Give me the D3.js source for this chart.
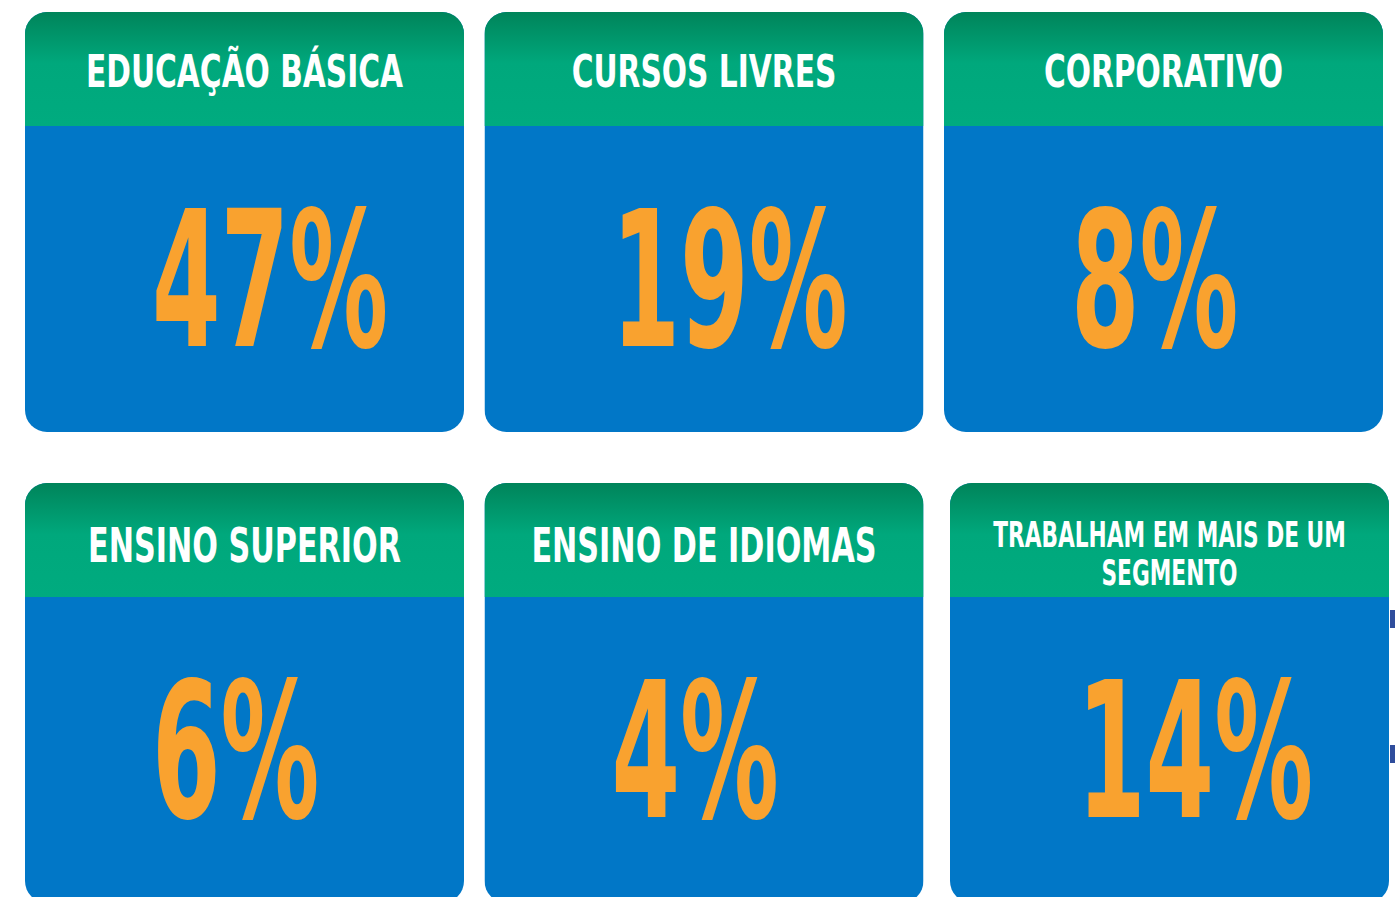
<!doctype html>
<html>
	<head>
		<meta charset="UTF-8" />
		<script src="https://d3js.org/d3.v7.min.js"></script>
		<style>
			html, body { margin: 0; padding: 0; background: #ffffff; overflow: hidden; }
			svg { display: block; }
			.head { font-family: "Liberation Sans Narrow", "DejaVu Sans Condensed", "Roboto", sans-serif; font-weight: bold; fill: #ffffff; }
			.num { font-family: "Liberation Sans Narrow", "DejaVu Sans Condensed", "Roboto", sans-serif; font-weight: bold; fill: #f9a22f; }
		</style>
	</head>
	<body>
		<svg id="chart"></svg>
		<script>
			"use strict";

			// segments and share of respondents (%)
			const categories = ["EDUCAÇÃO BÁSICA", "CURSOS LIVRES", "CORPORATIVO", "ENSINO SUPERIOR", "ENSINO DE IDIOMAS", "TRABALHAM EM MAIS DE UM SEGMENTO"];
			const values = [47, 19, 8, 6, 4, 14];

			const W = 1395, H = 897;
			const cardW = 439, cardH = 420, headH = 114, radius = 22;

			const svg = d3.select("#chart").attr("width", W).attr("height", H);

			const defs = svg.append("defs");
			const grad = defs.append("linearGradient")
				.attr("id", "headGrad")
				.attr("x1", 0).attr("y1", 0).attr("x2", 0).attr("y2", 1);
			grad.append("stop").attr("offset", "0%").attr("stop-color", "#00845a");
			grad.append("stop").attr("offset", "45%").attr("stop-color", "#00a87c");
			grad.append("stop").attr("offset", "100%").attr("stop-color", "#00ab7f");

			const col = d3.scaleLinear().domain([0, 2]).range([25, 944]);
			const row = d3.scaleLinear().domain([0, 1]).range([12, 483]);

			const cards = categories.map(function(c, i){
				return {
					label: c,
					value: values[i],
					c: i % 3,
					r: Math.floor(i / 3),
					nudge: i === 5 ? 6 : 0
				};
			});

			const g = svg.selectAll("g.card")
				.data(cards)
				.enter().append("g")
				.attr("class", "card")
				.attr("transform", function(d){ return "translate(" + (col(d.c) + d.nudge) + "," + row(d.r) + ")"; });

			g.each(function(d, i){
				defs.append("clipPath").attr("id", "clip" + i)
					.append("rect")
					.attr("width", cardW).attr("height", cardH)
					.attr("rx", radius).attr("ry", radius);
			});

			const inner = g.append("g").attr("clip-path", function(d, i){ return "url(#clip" + i + ")"; });

			inner.append("rect")
				.attr("width", cardW).attr("height", cardH)
				.attr("fill", "#0177c7");

			inner.append("rect")
				.attr("width", cardW).attr("height", headH)
				.attr("fill", "url(#headGrad)");

			// header labels, wrapped in a smaller size when too long
			g.each(function(d){
				const card = d3.select(this);
				const big = d.r === 0 ? 44.5 : 48;
				const sx = d.r === 0 ? 0.742 : 0.7;
				const t = card.append("text")
					.attr("class", "head")
					.attr("text-anchor", "middle")
					.style("font-size", big + "px")
					.attr("transform", "translate(" + cardW / 2 + "," + (d.r === 0 ? 75 : 79) + ") scale(" + sx + ",1)")
					.text(d.label);
				if(t.node().getComputedTextLength() * sx > cardW - 40){
					t.remove();
					const small = 36;
					const ssx = 0.67;
					const words = d.label.split(" ");
					const lines = [];
					let line = [];
					const probe = card.append("text").attr("class", "head").style("font-size", small + "px");
					words.forEach(function(w){
						probe.text(line.concat([w]).join(" "));
						if(probe.node().getComputedTextLength() * ssx > cardW - 40 && line.length){
							lines.push(line.join(" "));
							line = [w];
						} else {
							line.push(w);
						}
					});
					lines.push(line.join(" "));
					probe.remove();
					lines.forEach(function(l, k){
						card.append("text")
							.attr("class", "head")
							.attr("text-anchor", "middle")
							.style("font-size", small + "px")
							.attr("transform", "translate(" + cardW / 2 + "," + (64 + k * 38) + ") scale(" + ssx + ",1)")
							.text(l);
					});
				}
			});

			// percentage values
			g.append("text")
				.attr("class", "num")
				.attr("text-anchor", "start")
				.style("font-size", "189px")
				.attr("transform", "translate(127,334) scale(0.58,1)")
				.text(function(d){ return d3.format("d")(d.value) + "%"; });

			// small marks cut off at the right edge
			svg.selectAll("rect.edge")
				.data([610, 745])
				.enter().append("rect")
				.attr("class", "edge")
				.attr("x", 1390).attr("y", function(d){ return d; })
				.attr("width", 6).attr("height", 18)
				.attr("fill", "#2f4d9c");
		</script>
	</body>
</html>
